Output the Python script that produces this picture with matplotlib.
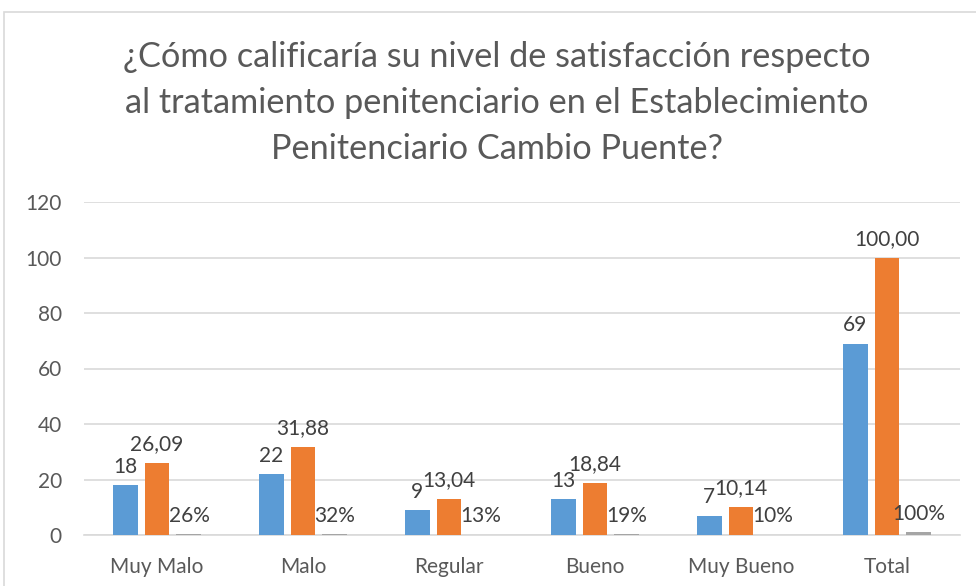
import matplotlib
matplotlib.use("Agg")
import matplotlib.pyplot as plt
from matplotlib.patches import Rectangle
import numpy as np

categories = ["Muy Malo", "Malo", "Regular", "Bueno", "Muy Bueno", "Total"]
frecuencia = [18, 22, 9, 13, 7, 69]
porcentaje = [26.09, 31.88, 13.04, 18.84, 10.14, 100.00]
fraccion = [0.2609, 0.3188, 0.1304, 0.1884, 0.1014, 1.00]

title = ("¿Cómo calificaría su nivel de satisfacción respecto\n"
         "al tratamiento penitenciario en el Establecimiento\n"
         "Penitenciario Cambio Puente?")

text_color = "#595959"
plt.rcParams['font.family'] = ['Lato', 'DejaVu Sans']

fig = plt.figure(figsize=(9.76, 5.86), dpi=100)
W, H = 976, 586

# chart border like the Excel chart area
fig.patches.append(Rectangle((4 / W, -0.05), 1.1, (586 - 12) / H + 0.05,
                             transform=fig.transFigure, fill=False,
                             edgecolor="#D9D9D9", linewidth=1.2))

ax = fig.add_axes([84 / W, (H - 535) / H, 876 / W, 333 / H])

x = np.arange(len(categories))
off = 0.219
bw = 0.171
ax.bar(x - off, frecuencia, bw, color="#5B9BD5", zorder=3)
ax.bar(x, porcentaje, bw, color="#ED7D31", zorder=3)
ax.bar(x + off, fraccion, bw, color="#A5A5A5", zorder=3)

lab_kw = dict(ha="center", va="bottom", fontsize=15, color="#404040",
              textcoords="offset points")
for xi, v in zip(x - off, frecuencia):
    ax.annotate(f"{v}", (xi, v), xytext=(0, 6), **lab_kw)
for xi, v in zip(x, porcentaje):
    ax.annotate(f"{v:.2f}".replace(".", ","), (xi, v), xytext=(0, 6), **lab_kw)
for xi, v in zip(x + off, fraccion):
    ax.annotate(f"{v * 100:.0f}%", (xi, v), xytext=(0, 6), **lab_kw)

ax.set_xlim(-0.5, len(categories) - 0.5)
ax.set_ylim(0, 120)
ax.set_yticks(range(0, 121, 20))
ax.set_xticks(x)
ax.set_xticklabels(categories)
ax.tick_params(axis="both", length=0, labelsize=15, colors=text_color)
ax.tick_params(axis="x", pad=16)
ax.tick_params(axis="y", pad=16)
ax.grid(axis="y", color="#D9D9D9", linewidth=1.2, zorder=0)
for s in ["top", "right", "left"]:
    ax.spines[s].set_visible(False)
ax.spines["bottom"].set_color("#D9D9D9")
ax.spines["bottom"].set_linewidth(1.2)

fig.text(497 / W, (H - 103) / H, title, ha="center", va="center",
         fontsize=24.7, color=text_color, linespacing=1.55)

plt.savefig("out.png", dpi=100)
plt.close()
